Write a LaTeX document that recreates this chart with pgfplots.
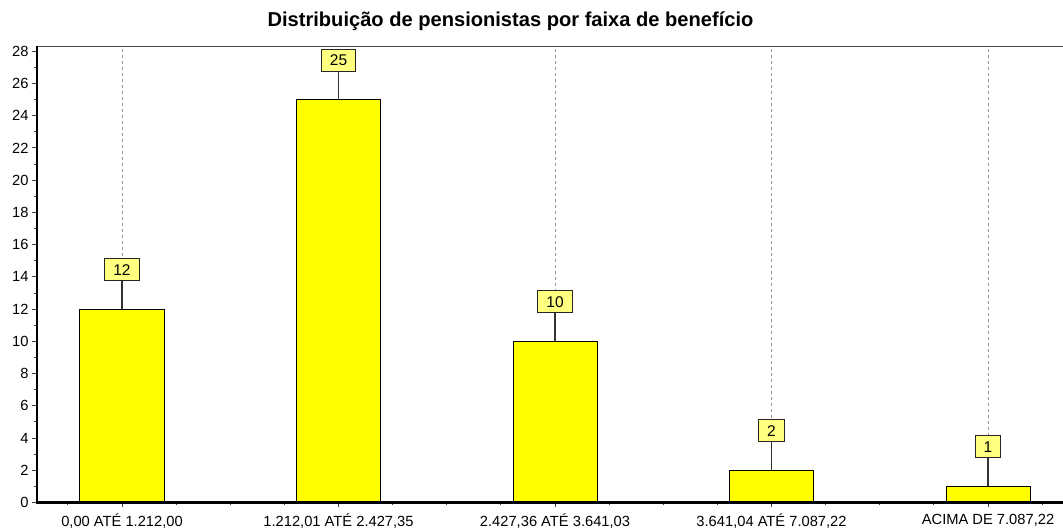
\documentclass[border=0pt]{standalone}
\usepackage{pgfplots}
\pgfplotsset{compat=1.18}
\usepackage{fontspec}
\setmainfont{Liberation Sans}
\definecolor{baryellow}{RGB}{255,255,0}
\definecolor{boxyellow}{RGB}{255,255,128}
\definecolor{gridgray}{RGB}{150,150,150}
\begin{document}
\begin{tikzpicture}[x=1bp,y=1bp]
\useasboundingbox (-37,-28.5) rectangle (1026,502.5);
\begin{axis}[
  at={(0,0)}, anchor=south west,
  scale only axis, width=1037.6bp, height=456bp,
  xmin=-0.3926, xmax=4.4, ymin=0, ymax=28.3,
  clip=false,
  axis line style={draw=none},
  ytick={0,2,...,28}, minor ytick={1,3,...,27},
  xtick={0,1,2,3,4},
  xticklabels={{0,00 ATÉ 1.212,00}, {1.212,01 ATÉ 2.427,35}, {2.427,36 ATÉ 3.641,03}, {3.641,04 ATÉ 7.087,22}, {ACIMA DE 7.087,22}},
  minor xtick={-0.25,0.25,0.5,0.75,1.25,1.5,1.75,2.25,2.5,2.75,3.25,3.5,3.75,4.25},
  xtick pos=left, ytick pos=left,
  tick align=outside,
  major tick length=5bp, minor tick length=3bp,
  tick style={black!75, line width=1bp},
  /pgf/number format/assume math mode=true,
  ticklabel style={font=\fontsize{14.7bp}{17bp}\selectfont},
  xticklabel style={yshift=-3bp},
  xmajorgrids,
  x grid style={gridgray, line width=1bp, dash pattern=on 3bp off 3bp},
  ybar, bar width=84bp,
  nodes near coords,
  every node near coord/.append style={
    font=\fontsize{15.5bp}{17bp}\selectfont,
    fill=boxyellow, draw=black!85, line width=1bp,
    inner xsep=8.5bp, inner ysep=0pt, minimum height=22bp,
    anchor=south, yshift=28bp,
    append after command={(\tikzlastnode.south) edge[draw=black!80, line width=1.5bp] ++(0bp,-28bp)}
  },
]
\addplot[fill=baryellow, draw=black, line width=1bp] coordinates {(0,12) (1,25) (2,10) (3,2) (4,1)};
\draw[black!70, line width=1.5bp] (rel axis cs:0,1) -- (rel axis cs:1,1);
\draw[black, line width=2.5bp] (rel axis cs:0,1) -- (rel axis cs:0,0) -- (rel axis cs:1,0);
\end{axis}
\node[font=\bfseries\fontsize{20.1bp}{24bp}\selectfont] at (473.5,481) {Distribuição de pensionistas por faixa de benefício};
\end{tikzpicture}
\end{document}
